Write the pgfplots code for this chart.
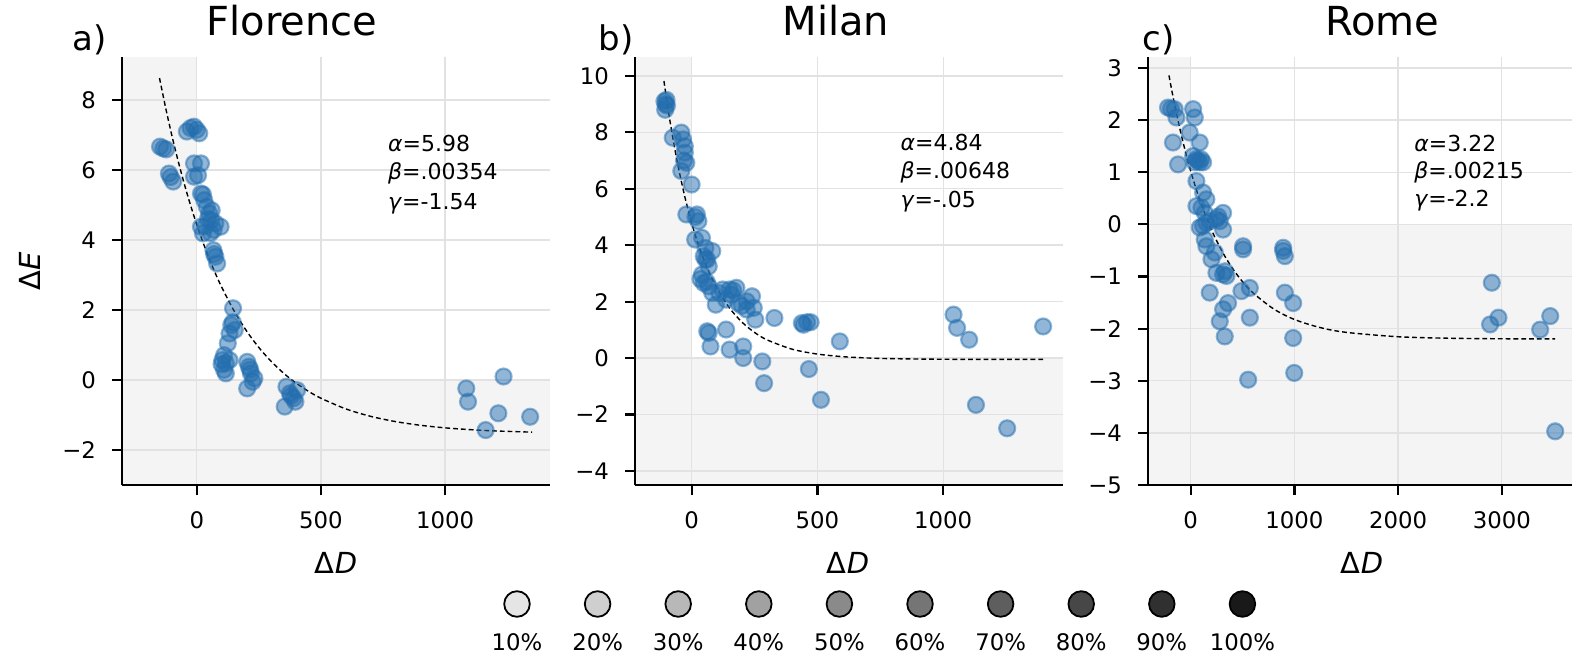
\documentclass[border=0pt]{standalone}
\usepackage{fontspec}
\setmainfont{DejaVu Sans}
\usepackage{pgfplots}
\pgfplotsset{compat=1.18}
\definecolor{mblue}{RGB}{35,110,175}
\definecolor{shade}{RGB}{244,244,244}
\definecolor{gridc}{RGB}{226,226,226}
\tikzset{ann/.style={anchor=west, inner sep=0pt, font=\fontsize{11}{13}\selectfont},
         gl/.style={gridc, line width=0.7pt}}
\pgfplotsset{
 panel/.style={
   scale only axis, width=214pt, height=214pt, anchor=south west,
   axis lines=left, axis line style={-, line width=1.2pt, black},
   tick align=outside, major tick length=5pt,
   every tick/.style={black, line width=1.1pt},
   axis on top,
   tick label style={font=\fontsize{11.4}{13}\selectfont},
   xticklabel style={yshift=-5pt},
   yticklabel style={xshift=-4.5pt},
   clip=true,
 },
 dots/.style={only marks, mark=*, mark size=4pt, mark options={fill=mblue, draw=mblue, line width=1.1pt, opacity=0.5}},
 fit/.style={black, line width=0.7pt, dash pattern=on 2.4pt off 1.5pt, smooth},
 bg/.style={fill=shade, draw=none, mark=none},
 leg/.style={only marks, mark=*, mark size=6.4pt, mark options={draw=black, line width=0.9pt, fill=#1}},
}
\begin{document}
\begin{tikzpicture}
\useasboundingbox (0,0) rectangle (786pt,326.5pt);
% ---------------- a) Florence
\begin{axis}[panel, at={(61pt,84pt)}, xmin=-301, xmax=1422, ymin=-3, ymax=9.23,
  xtick={0,500,1000}, xticklabels={0,500,1000},
  ytick={-2,0,2,4,6,8}, yticklabels={−2,0,2,4,6,8}]
\addplot[bg] coordinates {(-301,-3) (1422,-3) (1422,0) (0,0) (0,9.23) (-301,9.23)};
\pgfplotsinvokeforeach{0,500,1000}{\draw[gl] (axis cs:#1,-3) -- (axis cs:#1,9.23);}
\pgfplotsinvokeforeach{-2,0,2,4,6,8}{\draw[gl] (axis cs:-301,#1) -- (axis cs:1422,#1);}
\addplot[dots] coordinates {
(-148,6.67)(-135,6.62)(-123,6.59)(-112,5.9)(-105,5.8)(-95,5.67)
(-40,7.1)(-25,7.2)(-11,7.24)(0,7.15)(10,7.05)
(-11,6.19)(17,6.19)(-11,5.81)(5,5.85)
(17,5.33)(30,5.14)(25,5.3)
(40,4.95)(50,4.76)(58,4.57)(17,4.38)(25,4.19)(75,4.48)(96,4.38)(68,4.29)(45,4.6)(35,4.4)(60,4.85)(55,4.2)
(67,3.71)(75,3.52)(82,3.33)(70,3.6)
(146,2.05)(139,1.57)(153,1.43)(132,1.33)(125,1.05)(145,1.65)
(110,0.71)(103,0.57)(117,0.48)(132,0.57)(110,0.29)(117,0.19)(100,0.45)
(203,0.52)(210,0.38)(218,0.19)(232,0.05)(225,-0.05)(203,-0.24)(215,0.3)
(361,-0.19)(375,-0.38)(390,-0.52)(404,-0.29)(354,-0.76)(397,-0.62)(380,-0.45)
(1085,-0.24)(1092,-0.62)(1235,0.1)(1214,-0.95)(1163,-1.43)(1342,-1.05)};
\addplot[fit] coordinates {
(-150,8.629)(-125,7.768)(-100,6.980)(-75,6.259)(-50,5.598)(-25,4.993)(0,4.44)(25,3.934)(50,3.470)(75,3.046)(100,2.657)(150,1.977)(200,1.406)(250,0.928)(300,0.528)(350,0.192)(400,-0.089)(450,-0.324)(500,-0.521)(600,-0.825)(700,-1.038)(800,-1.188)(900,-1.293)(1000,-1.367)(1100,-1.418)(1200,-1.455)(1350,-1.490)};
\node[ann] at (axis cs:769,6.76) {\textit{α}=5.98};
\node[ann] at (axis cs:769,5.90) {\textit{β}=.00354};
\node[ann] at (axis cs:769,5.05) {\textit{γ}=-1.54};
\end{axis}
% ---------------- b) Milan
\begin{axis}[panel, at={(317.5pt,84pt)}, xmin=-225, xmax=1476, ymin=-4.5, ymax=10.67,
  xtick={0,500,1000}, xticklabels={0,500,1000},
  ytick={-4,-2,0,2,4,6,8,10}, yticklabels={−4,−2,0,2,4,6,8,10}]
\addplot[bg] coordinates {(-225,-4.5) (1476,-4.5) (1476,0) (0,0) (0,10.67) (-225,10.67)};
\pgfplotsinvokeforeach{0,500,1000}{\draw[gl] (axis cs:#1,-4.5) -- (axis cs:#1,10.67);}
\pgfplotsinvokeforeach{-4,-2,0,2,4,6,8,10}{\draw[gl] (axis cs:-225,#1) -- (axis cs:1476,#1);}
\addplot[dots] coordinates {
(-108,9.1)(-103,9.0)(-98,8.95)(-105,8.8)(-100,9.15)
(-75,7.81)(-41,7.99)(-34,7.75)(-27,7.51)(-27,7.28)(-21,6.92)(-41,6.63)(0,6.15)(-30,7.0)
(-21,5.09)(21,5.09)(27,4.85)(15,5.0)
(14,4.2)(41,4.26)(55,3.9)(82,3.79)(48,3.61)(62,3.49)(68,3.25)(55,3.5)(41,2.96)(48,2.66)(68,2.54)(35,2.8)(60,2.7)
(82,2.31)(96,1.89)(123,2.43)(151,2.43)(178,2.49)(158,2.25)(137,2.07)(185,1.95)(219,2.01)(240,2.19)(219,1.72)(247,1.78)(253,1.36)(329,1.42)(110,2.3)(165,2.4)(200,1.85)
(68,0.89)(75,0.41)(62,0.95)(137,1.01)(151,0.30)(205,0.41)(205,0.0)(281,-0.12)(288,-0.89)
(438,1.24)(459,1.27)(473,1.27)(445,1.18)(589,0.59)(466,-0.39)(514,-1.48)
(1041,1.54)(1055,1.07)(1103,0.65)(1130,-1.66)(1254,-2.49)(1397,1.12)};
\addplot[fit] coordinates {
(-110,9.82)(-95,8.907)(-80,8.078)(-65,7.325)(-50,6.642)(-25,5.641)(0,4.79)(25,4.066)(50,3.451)(75,2.927)(100,2.482)(150,1.781)(200,1.274)(250,0.908)(300,0.643)(400,0.312)(500,0.140)(600,0.049)(700,0.002)(800,-0.023)(1000,-0.043)(1200,-0.048)(1400,-0.0495)};
\node[ann] at (axis cs:829,7.63) {\textit{α}=4.84};
\node[ann] at (axis cs:829,6.57) {\textit{β}=.00648};
\node[ann] at (axis cs:829,5.56) {\textit{γ}=-.05};
\end{axis}
% ---------------- c) Rome
\begin{axis}[panel, at={(574pt,84pt)}, xmin=-412, xmax=3716, ymin=-5, ymax=3.21,
  xtick={0,1000,2000,3000}, xticklabels={0,1000,2000,3000},
  ytick={-5,-4,-3,-2,-1,0,1,2,3}, yticklabels={−5,−4,−3,−2,−1,0,1,2,3}]
\addplot[bg] coordinates {(-412,-5) (3716,-5) (3716,0) (0,0) (0,3.21) (-412,3.21)};
\pgfplotsinvokeforeach{0,1000,2000,3000}{\draw[gl] (axis cs:#1,-5) -- (axis cs:#1,3.21);}
\pgfplotsinvokeforeach{-5,-4,-3,-2,-1,0,1,2,3}{\draw[gl] (axis cs:-412,#1) -- (axis cs:3716,#1);}
\addplot[dots] coordinates {
(-219,2.24)(-155,2.21)(-138,2.05)(-171,1.57)(-122,1.15)(-190,2.22)
(23,2.21)(39,2.05)(-10,1.76)(87,1.57)(23,1.31)(55,1.25)(87,1.19)(119,1.19)(39,1.19)(70,1.22)(100,1.25)
(55,0.83)(119,0.61)(151,0.48)(55,0.35)(103,0.32)(135,0.22)(312,0.22)(248,0.1)(280,0.06)(183,0.06)(119,-0.03)(151,0.03)(87,-0.06)(312,-0.1)(265,0.15)
(135,-0.29)(151,-0.42)(232,-0.54)(200,-0.67)(248,-0.93)(312,-0.96)(344,-0.99)(183,-1.31)(330,-0.9)
(505,-0.42)(505,-0.48)(489,-1.28)(570,-1.22)(360,-1.51)(312,-1.63)(280,-1.86)(328,-2.15)(570,-1.79)(554,-2.98)
(892,-0.45)(908,-0.61)(892,-0.51)(908,-1.31)(988,-1.51)(988,-2.18)(998,-2.85)
(2904,-1.12)(2887,-1.92)(2968,-1.79)(3370,-2.02)(3467,-1.76)(3515,-3.97)};
\addplot[fit] coordinates {
(-210,2.858)(-180,2.542)(-150,2.245)(-100,1.792)(-50,1.385)(0,1.02)(50,0.692)(100,0.397)(200,-0.105)(300,-0.510)(400,-0.837)(500,-1.101)(600,-1.314)(800,-1.623)(1000,-1.825)(1250,-1.981)(1500,-2.072)(2000,-2.156)(2500,-2.185)(3000,-2.195)(3515,-2.198)};
\node[ann] at (axis cs:2153,1.56) {\textit{α}=3.22};
\node[ann] at (axis cs:2153,1.00) {\textit{β}=.00215};
\node[ann] at (axis cs:2153,0.45) {\textit{γ}=-2.2};
\end{axis}
% ---------------- legend
\begin{axis}[at={(218.2pt,14.5pt)}, anchor=south west, scale only axis, width=443.3pt, height=20pt,
  xmin=0, xmax=11, ymin=-1, ymax=1, hide axis, clip=false,
  every node near coord/.append style={anchor=center, yshift=-19pt, font=\fontsize{11.4}{13}\selectfont, text=black}]
\addplot[leg=black!10, nodes near coords={10\%}] coordinates {(1,0)};
\addplot[leg=black!19, nodes near coords={20\%}] coordinates {(2,0)};
\addplot[leg=black!28, nodes near coords={30\%}] coordinates {(3,0)};
\addplot[leg=black!37, nodes near coords={40\%}] coordinates {(4,0)};
\addplot[leg=black!46, nodes near coords={50\%}] coordinates {(5,0)};
\addplot[leg=black!54, nodes near coords={60\%}] coordinates {(6,0)};
\addplot[leg=black!63, nodes near coords={70\%}] coordinates {(7,0)};
\addplot[leg=black!72, nodes near coords={80\%}] coordinates {(8,0)};
\addplot[leg=black!81, nodes near coords={90\%}] coordinates {(9,0)};
\addplot[leg=black!90, nodes near coords={100\%}] coordinates {(10,0)};
\end{axis}
% ---------------- texts
\node[anchor=base, font=\fontsize{20}{24}\selectfont] at (146pt,308.5pt) {Florence};
\node[anchor=base, font=\fontsize{20}{24}\selectfont] at (418pt,308.5pt) {Milan};
\node[anchor=base, font=\fontsize{20}{24}\selectfont] at (691pt,308.5pt) {Rome};
\node[anchor=base west, inner sep=0pt, font=\fontsize{17}{20}\selectfont] at (36pt,301pt) {a)};
\node[anchor=base west, inner sep=0pt, font=\fontsize{17}{20}\selectfont] at (299pt,301pt) {b)};
\node[anchor=base west, inner sep=0pt, font=\fontsize{17}{20}\selectfont] at (571pt,301pt) {c)};
\node[font=\fontsize{14.5}{17}\selectfont] at (168pt,45pt) {Δ\textit{D}};
\node[font=\fontsize{14.5}{17}\selectfont] at (424pt,45pt) {Δ\textit{D}};
\node[font=\fontsize{14.5}{17}\selectfont] at (681pt,45pt) {Δ\textit{D}};
\node[rotate=90, font=\fontsize{14.5}{17}\selectfont] at (15pt,191pt) {Δ\textit{E}};
\end{tikzpicture}
\end{document}
